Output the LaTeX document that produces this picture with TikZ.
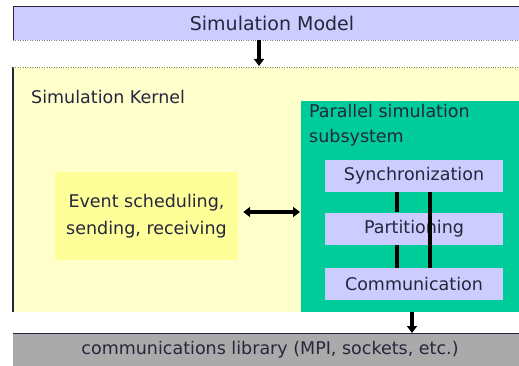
\documentclass[tikz,border=0pt]{standalone}
\usepackage{fontspec}
\setmainfont{DejaVu Sans}
\usetikzlibrary{arrows.meta}
\definecolor{lav}{RGB}{204,204,255}
\definecolor{kern}{RGB}{255,255,204}
\definecolor{evt}{RGB}{255,255,153}
\definecolor{psub}{RGB}{0,204,153}
\definecolor{lib}{RGB}{170,170,170}
\definecolor{ink}{RGB}{38,38,60}
\tikzset{
  x=1pt, y=-1pt,
  lbl/.style={font=\fontsize{17.5}{19}\selectfont, text=ink, inner sep=0pt},
  flow/.style={line width=3.2pt, -{Triangle[length=7pt,width=10pt]}},
  twoway/.style={line width=3.2pt, {Triangle[length=7pt,width=10pt]}-{Triangle[length=7pt,width=10pt]}},
  tie/.style={line width=3.6pt, black},
}
\begin{document}
\begin{tikzpicture}
\useasboundingbox (0,0) rectangle (519,366);
% top layer
\fill[lav] (13,7) rectangle (519,40);
\draw[ink, line width=1pt] (13,40) -- (13,7) -- (519,7);
\draw[gray, dotted] (13,40) -- (519,40);
\node[lbl, font=\fontsize{19}{21}\selectfont] (model) at (272,23) {Simulation Model};
% kernel
\fill[kern] (13,67) rectangle (519,312);
\draw[ink, line width=1.2pt] (13,312) -- (13,67);
\draw[gray, dotted] (13,67) -- (519,67);
\node[lbl, anchor=west] (kernel) at (31,97) {Simulation Kernel};
\coordinate (kerneltop) at (259,66);
\coordinate (modelbot) at (259,40);
% event box
\node[fill=evt, minimum width=183pt, minimum height=88pt, inner sep=0pt, align=center,
      font=\fontsize{17.5}{27}\selectfont, text=ink] (event) at (146.5,216)
      {Event scheduling,\\sending, receiving};
% parallel subsystem
\fill[psub] (301,101) rectangle (519,312);
\node[lbl, anchor=north west, align=left, font=\fontsize{17.5}{25}\selectfont] (par) at (309,104)
     {Parallel simulation\\subsystem};
\coordinate (parw) at (300,212);
\tikzset{mod/.style={fill=lav, minimum width=178pt, minimum height=32pt, inner sep=0pt,
   font=\fontsize{17.5}{19}\selectfont, text=ink}}
\node[mod] (sync) at (414,176) {Synchronization};
\node[mod] (part) at (414,228.5) {Partitioning};
\node[mod] (comm) at (414,284) {Communication};
% ties between modules
\draw[tie] (sync.south -| 397,0) -- (part.north -| 397,0);
\draw[tie] (part.south -| 397,0) -- (comm.north -| 397,0);
\draw[tie] (sync.south -| 430,0) -- (comm.north -| 430,0);
% library
\fill[lib] (13,333) rectangle (519,366);
\draw[ink, line width=1pt] (13,333) -- (519,333);
\node[lbl] (libtext) at (270,350) {communications library (MPI, sockets, etc.)};
\coordinate (kernbot) at (412,312);
\coordinate (libtop) at (412,333);
% connectors
\draw[flow] (modelbot) -- (kerneltop);
\draw[twoway] (event.east) ++(5,-4) coordinate (ea) (ea) -- (parw |- ea);
\draw[flow] (kernbot) -- (libtop);
\end{tikzpicture}
\end{document}
